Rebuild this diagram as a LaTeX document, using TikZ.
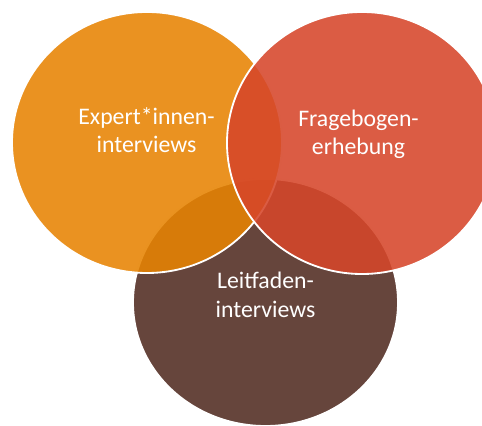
\documentclass[tikz,border=0pt]{standalone}
\usepackage{fontspec}
\setmainfont{Carlito}
\usepackage{tikz}
\usetikzlibrary{positioning}

\definecolor{vennorange}{RGB}{231,131,2}
\definecolor{vennred}{RGB}{214,70,42}
\definecolor{vennbrown}{RGB}{81,43,33}

\begin{document}
\begin{tikzpicture}[
            set/.style={draw=white, line width=1.3pt, fill opacity=0.88},
            setlabel/.style={text=white, align=center, anchor=base, inner sep=0pt,
                       font=\fontsize{16.9}{20.6}\selectfont}
        ]
            \useasboundingbox (0,0) rectangle (12.05,10.625);
            \clip (0,0) rectangle (12.05,10.625);

            % the three sets, bottom one first
            \draw[set, fill=vennbrown] (6.6375,3.0625) ellipse [x radius=3.3125, y radius=3.0875];
            \draw[set, fill=vennorange] (3.675,7.0625) ellipse [x radius=3.375, y radius=3.2625];
            \draw[set, fill=vennred] (9.05,7.05) ellipse [x radius=3.375, y radius=3.275];

            % Add set names (base is the second line)
            \node[setlabel] (expert) at (3.6625,6.8) {Expert*innen-\\interviews};
            \node[setlabel] (survey) at (8.9625,6.75) {Fragebogen-\\erhebung};
            \node[setlabel] (guided) at (6.6375,2.7) {Leitfaden-\\interviews};
        \end{tikzpicture}
\end{document}
